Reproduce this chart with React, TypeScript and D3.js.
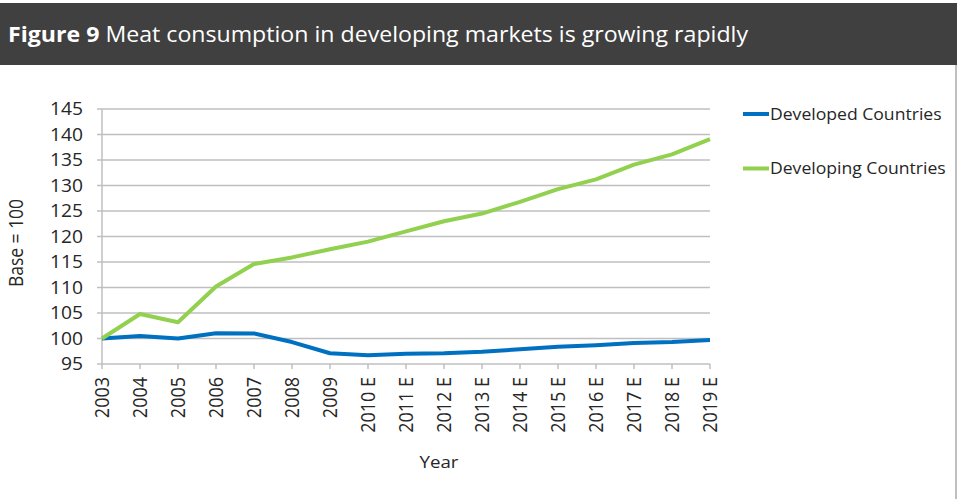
import React from "react";
import * as d3 from "d3";

const years = ["2003","2004","2005","2006","2007","2008","2009","2010 E","2011 E","2012 E","2013 E","2014 E","2015 E","2016 E","2017 E","2018 E","2019 E"];
const developed = [100,100.5,100.0,101.05,101.0,99.3,97.1,96.7,97.0,97.1,97.4,97.9,98.4,98.7,99.1,99.3,99.7];
const developing = [100,104.8,103.2,110.2,114.6,115.9,117.5,119.0,121.0,123.0,124.5,126.8,129.3,131.2,134.1,136.1,139.1];
const yTicks = [95,100,105,110,115,120,125,130,135,140,145];
const seriesNames = ["Developed Countries","Developing Countries"];
const seriesColors = ["#0070C0","#92D050"];

const W = 969, H = 499;
const FONT = "'Open Sans', sans-serif";
const SX = 1.1; // horizontal stretch of the reference image

export default function App() {
  const x = d3.scalePoint<string>().domain(years).range([102, 710]);
  const y = d3.scaleLinear().domain([95, 145]).range([364, 109]);
  const line = d3.line<number>().x((_, i) => x(years[i]) as number).y(d => y(d));
  const series = [developed, developing];
  const grid = "#BFBFBF";
  const txt = "#262626";
  return (
    <svg width={W} height={H} style={{ position: "absolute", left: 0, top: 0, background: "#fff" }} fontFamily={FONT}>
      <rect x={0} y={3} width={957} height={62} fill="#404040" />
      <text x={8} y={42} fill="#fff" fontSize={22} textLength={740} lengthAdjust="spacingAndGlyphs">
        <tspan fontWeight="bold">Figure 9</tspan>
        <tspan> Meat consumption in developing markets is growing rapidly</tspan>
      </text>
      <line x1={956} x2={956} y1={65} y2={499} stroke="#BFBFBF" strokeWidth={2} />

      {yTicks.map(t => (
        <g key={t}>
          <line x1={97} x2={710} y1={y(t)} y2={y(t)} stroke={grid} strokeWidth={1.5} />
          <text transform={`translate(83,${y(t)}) scale(${SX},1)`} dy="0.36em" textAnchor="end" fontSize={17.5} fill={txt}>{t}</text>
        </g>
      ))}
      <line x1={102} x2={102} y1={y(145)} y2={y(95)} stroke={grid} strokeWidth={1.5} />
      {years.map(yr => (
        <g key={yr}>
          <line x1={x(yr)} x2={x(yr)} y1={364} y2={369} stroke={grid} strokeWidth={1.5} />
          <text transform={`translate(${(x(yr) as number) + 6.5},377) scale(${SX},1) rotate(-90)`} textAnchor="end" fontSize={18} fill={txt}>{yr}</text>
        </g>
      ))}
      <text transform={`translate(23,243) scale(${SX},1) rotate(-90)`} textAnchor="middle" fontSize={17.5} fill={txt}>Base = 100</text>
      <text transform={`translate(439,468) scale(${SX},1)`} textAnchor="middle" fontSize={17} fill={txt}>Year</text>

      {series.map((s, i) => (
        <path key={i} d={line(s) || ""} fill="none" stroke={seriesColors[i]} strokeWidth={4} strokeLinejoin="round" />
      ))}

      {seriesNames.map((n, i) => (
        <g key={n}>
          <line x1={743} x2={769} y1={114 + i * 54.5} y2={114 + i * 54.5} stroke={seriesColors[i]} strokeWidth={4} />
          <text transform={`translate(770,${114 + i * 54.5}) scale(${SX},1)`} dy="0.36em" fontSize={16} fill={txt}>{n}</text>
        </g>
      ))}
    </svg>
  );
}
